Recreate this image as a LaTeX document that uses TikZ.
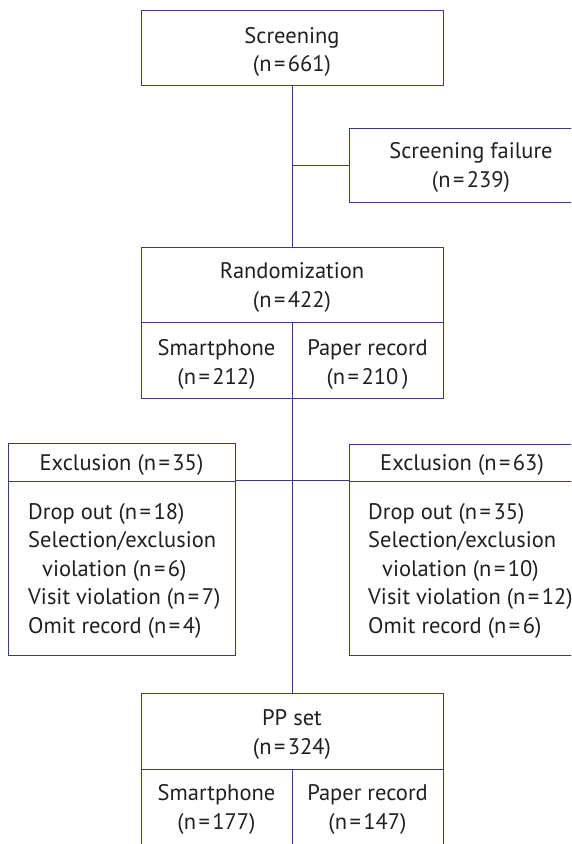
\documentclass[tikz,border=0pt]{standalone}
\usepackage{fontspec}
\setmainfont{PT Sans}
\definecolor{frame}{RGB}{58,58,150}
\definecolor{ink}{RGB}{35,31,32}
\newcommand{\eqsign}{\hspace{2.5pt}=\hspace{2.5pt}}
\newcommand{\nn}[1]{(n\eqsign #1)}
\begin{document}
\begin{tikzpicture}[x=1pt,y=-1pt,
  every node/.style={text=ink,font=\fontsize{22.5}{28.5}\selectfont},
  cell/.style={draw=frame,line width=0.9pt,rectangle,inner sep=0pt},
  % centred text, placed by the baseline of its last line
  lbl/.style={inner sep=0pt,align=center,anchor=base},
  listtext/.style={inner sep=0pt,align=left,anchor=base west},
  link/.style={draw=frame,line width=0.9pt}]
\useasboundingbox (0,0) rectangle (571,844);
\clip (0,0) rectangle (571,844);
\fill[white] (0,0) rectangle (571,844);

% screening stage
\node[cell,minimum width=302,minimum height=75] (scr) at (292,47.5) {};
\node[lbl] (scrt) at ([yshift=-24pt]scr.center) {Screening\\\nn{661}};
\node[cell,minimum width=244,minimum height=74] (fail) at (471,165) {};
\node[lbl] (failt) at ([yshift=-22pt]fail.center) {Screening failure\\\nn{239}};

% randomization stage
\node[cell,minimum width=302,minimum height=75] (rand) at (292,284.5) {};
\node[lbl] (randt) at ([yshift=-22.5pt]rand.center) {Randomization\\\nn{422}};
\node[cell,minimum width=151,minimum height=76] (rsm) at (216.5,360) {};
\node[lbl] (rsmt) at ([yshift=-24pt]rsm.center) {Smartphone\\\nn{212}};
\node[cell,minimum width=151,minimum height=76] (rpa) at (367.5,360) {};
\node[lbl] (rpat) at ([yshift=-24pt]rpa.center) {Paper record\\(n\eqsign 210\,)};

% exclusions: header row, framed body and its list
\node[cell,minimum width=227,minimum height=38] (exlh) at (121.5,462) {};
\node[lbl] (exlht) at ([yshift=-8pt]exlh.center) {Exclusion \nn{35}};
\node[cell,minimum width=227,minimum height=174] (exlb) at (121.5,568) {};
\node[listtext] (exlt) at (28,633)
  {Drop out \nn{18}\\Selection/exclusion\\\hspace*{14pt}violation \nn{6}\\Visit violation \nn{7}\\Omit record \nn{4}};
\node[cell,minimum width=226,minimum height=37] (exrh) at (462,462.5) {};
\node[lbl] (exrht) at ([yshift=-7.5pt]exrh.center) {Exclusion \nn{63}};
\node[cell,minimum width=240,minimum height=174] (exrb) at (469,568) {};
\node[listtext] (exrt) at (368,633)
  {Drop out \nn{35}\\Selection/exclusion\\\hspace*{14pt}violation \nn{10}\\Visit violation \nn{12}\\Omit record \nn{6}};

% per-protocol set
\node[cell,minimum width=302,minimum height=76] (pp) at (292,731) {};
\node[lbl] (ppt) at ([yshift=-23pt]pp.center) {PP set\\\nn{324}};
\node[cell,minimum width=151,minimum height=81] (psm) at (216.5,809.5) {};
\node[lbl] (psmt) at ([yshift=-19.5pt]psm.center) {Smartphone\\\nn{177}};
\node[cell,minimum width=151,minimum height=81] (ppa) at (367.5,809.5) {};
\node[lbl] (ppat) at ([yshift=-19.5pt]ppa.center) {Paper record\\\nn{147}};

% connectors
\draw[link] (scr.south) -- (rand.north);
\draw[link] (scr.south |- fail.west) -- (fail.west);
\draw[link] (pp.north |- rsm.south) -- (pp.north);
\draw[link] (exlb.north east) -- (exrb.north west);
\end{tikzpicture}
\end{document}
